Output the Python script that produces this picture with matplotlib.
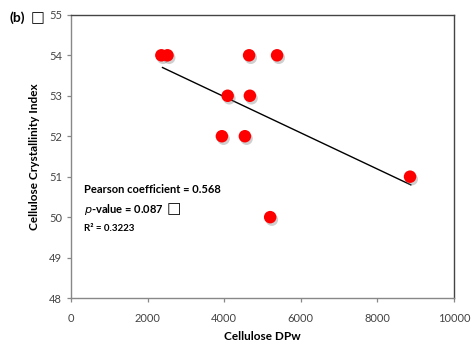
import numpy as np
import matplotlib
matplotlib.use('Agg')
import matplotlib.pyplot as plt
import matplotlib.patheffects as pe

# --- Data ---
dpw = [2360, 2520, 4650, 5380, 4090, 4670, 3940, 4540, 5200, 8850]
cri = [54, 54, 54, 54, 53, 53, 52, 52, 50, 51]
x_ticks = [0, 2000, 4000, 6000, 8000, 10000]
y_ticks = [48, 49, 50, 51, 52, 53, 54, 55]
stats_lines = ["Pearson coefficient = 0.568", "$\\it{p}$-value = 0.087", "R\u00b2 = 0.3223"]
# -------------

plt.rcParams['font.family'] = ['Lato', 'DejaVu Sans']

fig = plt.figure(figsize=(4.76, 3.45), dpi=100)
ax = fig.add_axes([0.149, 0.136, 0.805, 0.821])

# markers with a soft drop shadow
ax.plot(dpw, cri, 'o', color='#ff0000', markersize=9, markeredgewidth=0,
        path_effects=[pe.SimplePatchShadow(offset=(1.2, -1.8), shadow_rgbFace='#777777', alpha=0.35),
                      pe.Normal()], zorder=3)

# linear trendline over the data range
slope, icpt = np.polyfit(dpw, cri, 1)
xs = np.array([min(dpw) + 30, max(dpw) + 20])
ax.plot(xs, slope * xs + icpt, color='black', lw=1.0, zorder=2)

ax.set_xlim(0, 10000)
ax.set_ylim(48, 55)
ax.set_xticks(x_ticks)
ax.set_yticks(y_ticks)
ax.tick_params(axis='both', labelsize=8, colors='#888888', labelcolor='#444444',
               length=3, width=0.9, direction='out')
ax.tick_params(axis='x', pad=8)

for s in ['left', 'bottom']:
    ax.spines[s].set_color('#888888')
    ax.spines[s].set_linewidth(1.0)
for s in ['top', 'right']:
    ax.spines[s].set_color('#444444')
    ax.spines[s].set_linewidth(1.0)

ax.set_xlabel("Cellulose DPw", fontsize=8.5, fontweight='bold', labelpad=5)
ax.set_ylabel("Cellulose Crystallinity Index", fontsize=8.5, fontweight='bold', labelpad=6)

ax.text(0.034, 0.385, stats_lines[0], transform=ax.transAxes, fontsize=8, fontweight='bold', va='center')
pval = ax.text(0.034, 0.314, stats_lines[1], transform=ax.transAxes, fontsize=8, fontweight='bold', va='center')
ax.annotate("\u25a1", xy=(1, 0.5), xycoords=pval, xytext=(2, 0), textcoords='offset points',
            fontsize=11, fontweight='bold', va='center', ha='left', family=['DejaVu Sans'])
ax.text(0.034, 0.247, stats_lines[2], transform=ax.transAxes, fontsize=7, fontweight='bold', va='center')

fig.text(0.02, 0.948, "(b)", fontsize=10, fontweight='bold', va='center')
fig.text(0.064, 0.948, "\u25a1", fontsize=10.5, fontweight='bold', va='center',
         family=['DejaVu Sans'])

fig.savefig('out.png', dpi=100)
